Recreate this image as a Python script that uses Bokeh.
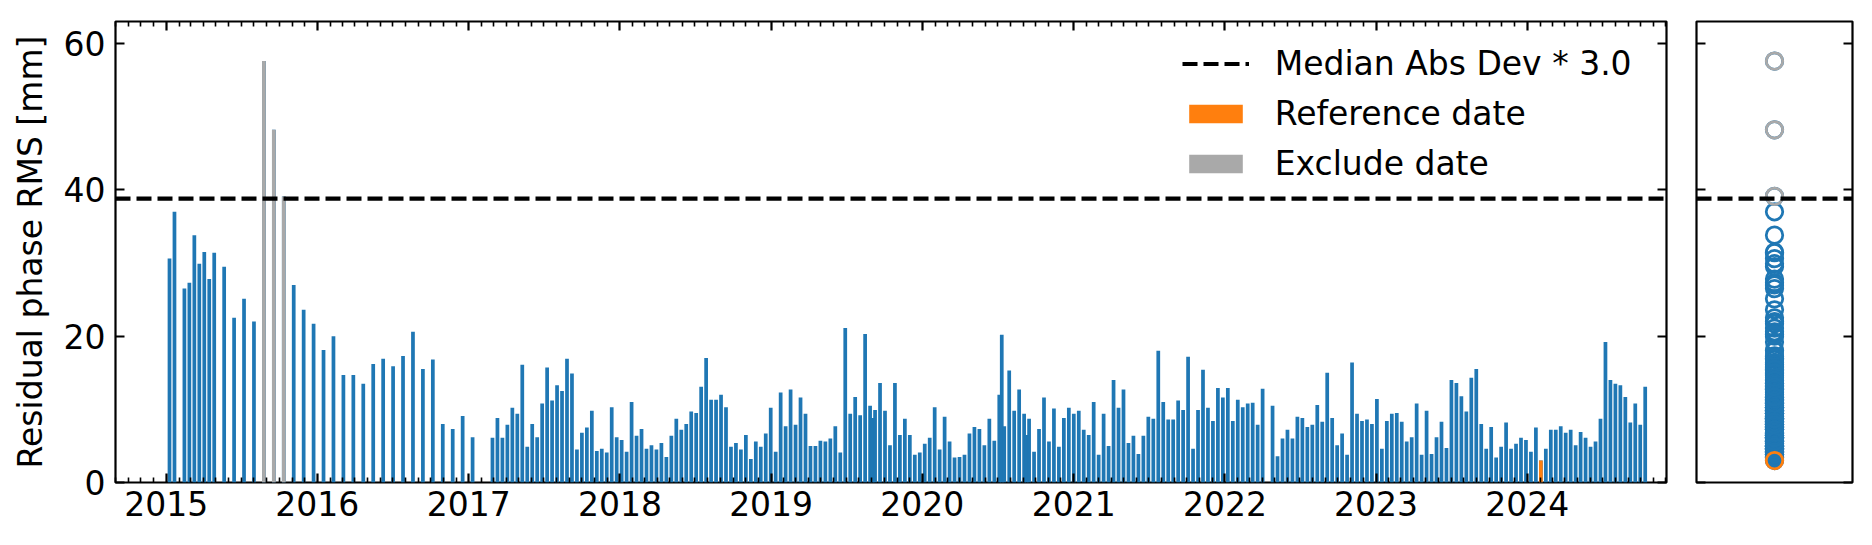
import datetime as dt
from bokeh.plotting import figure
from bokeh.models import (Range1d, LinearAxis, DatetimeAxis, FixedTicker,
                          DatetimeTickFormatter, Legend, LegendItem, ColumnDataSource)
from bokeh.layouts import row
from bokeh.embed import file_html
from bokeh.resources import INLINE

# ---------------- data ----------------
dates = [
    "2015-01-09", "2015-01-21", "2015-02-14", "2015-02-26", "2015-03-10", "2015-03-22", "2015-04-03",
    "2015-04-15", "2015-04-27", "2015-05-21", "2015-06-14", "2015-07-08", "2015-08-01", "2015-08-25",
    "2015-09-18", "2015-10-12", "2015-11-05", "2015-11-29", "2015-12-23",
    "2016-01-16", "2016-02-09", "2016-03-04", "2016-03-28", "2016-04-21", "2016-05-15", "2016-06-08",
    "2016-07-02", "2016-07-26", "2016-08-19", "2016-09-12", "2016-10-06", "2016-10-30", "2016-11-23",
    "2016-12-17",
    "2017-01-10", "2017-02-27", "2017-03-11", "2017-03-23", "2017-04-04", "2017-04-16", "2017-04-28",
    "2017-05-10", "2017-05-22", "2017-06-03", "2017-06-15", "2017-06-27", "2017-07-09", "2017-07-21",
    "2017-08-02", "2017-08-14", "2017-08-26", "2017-09-07", "2017-09-19", "2017-10-01", "2017-10-13",
    "2017-10-25", "2017-11-06", "2017-11-18", "2017-11-30", "2017-12-12", "2017-12-24",
    "2018-01-05", "2018-01-17", "2018-01-29", "2018-02-10", "2018-02-22", "2018-03-06", "2018-03-18",
    "2018-03-30", "2018-04-11", "2018-04-23", "2018-05-05", "2018-05-17", "2018-05-29", "2018-06-10",
    "2018-06-22", "2018-07-04", "2018-07-16", "2018-07-28", "2018-08-09", "2018-08-21", "2018-09-02",
    "2018-09-14", "2018-09-26", "2018-10-08", "2018-10-20", "2018-11-01", "2018-11-13", "2018-11-25",
    "2018-12-07", "2018-12-19", "2018-12-31",
    "2019-01-12", "2019-01-24", "2019-02-05", "2019-02-17", "2019-03-01", "2019-03-13", "2019-03-25",
    "2019-04-06", "2019-04-18", "2019-04-30", "2019-05-12", "2019-05-24", "2019-06-05", "2019-06-17",
    "2019-06-29", "2019-07-11", "2019-07-23", "2019-08-04", "2019-08-16", "2019-08-28", "2019-09-03",
    "2019-09-09", "2019-09-21", "2019-10-03", "2019-10-15", "2019-10-27", "2019-11-08", "2019-11-20",
    "2019-12-02", "2019-12-14", "2019-12-26",
    "2020-01-07", "2020-01-19", "2020-01-31", "2020-02-12", "2020-02-24", "2020-03-07", "2020-03-19",
    "2020-03-31", "2020-04-12", "2020-04-24", "2020-05-06", "2020-05-18", "2020-05-30", "2020-06-11",
    "2020-06-23", "2020-07-05", "2020-07-11", "2020-07-17", "2020-07-29", "2020-08-10", "2020-08-22",
    "2020-09-03", "2020-09-09", "2020-09-15", "2020-09-27", "2020-10-09", "2020-10-21", "2020-11-02",
    "2020-11-14", "2020-11-26", "2020-12-08", "2020-12-20",
    "2021-01-01", "2021-01-13", "2021-01-25", "2021-02-06", "2021-02-18", "2021-03-02", "2021-03-14",
    "2021-03-26", "2021-04-07", "2021-04-19", "2021-05-01", "2021-05-13", "2021-05-25", "2021-06-06",
    "2021-06-18", "2021-06-30", "2021-07-12", "2021-07-24", "2021-08-05", "2021-08-17", "2021-08-29",
    "2021-09-10", "2021-09-22", "2021-10-04", "2021-10-16", "2021-10-28", "2021-11-09", "2021-11-21",
    "2021-12-03", "2021-12-15", "2021-12-27",
    "2022-01-08", "2022-01-20", "2022-02-01", "2022-02-13", "2022-02-25", "2022-03-09", "2022-03-21",
    "2022-04-02", "2022-04-26", "2022-05-08", "2022-05-20", "2022-06-01", "2022-06-13", "2022-06-25",
    "2022-07-07", "2022-07-19", "2022-07-31", "2022-08-12", "2022-08-24", "2022-09-05", "2022-09-17",
    "2022-09-29", "2022-10-11", "2022-10-23", "2022-11-04", "2022-11-16", "2022-11-28", "2022-12-10",
    "2022-12-22",
    "2023-01-03", "2023-01-15", "2023-01-27", "2023-02-08", "2023-02-20", "2023-03-04", "2023-03-16",
    "2023-03-28", "2023-04-09", "2023-04-21", "2023-05-03", "2023-05-15", "2023-05-27", "2023-06-08",
    "2023-06-20", "2023-07-02", "2023-07-14", "2023-07-26", "2023-08-07", "2023-08-19", "2023-08-31",
    "2023-09-12", "2023-09-24", "2023-10-06", "2023-10-18", "2023-10-30", "2023-11-11", "2023-11-23",
    "2023-12-05", "2023-12-17", "2023-12-29",
    "2024-01-10", "2024-01-22", "2024-02-03", "2024-02-15", "2024-02-27", "2024-03-10", "2024-03-22",
    "2024-04-03", "2024-04-15", "2024-04-27", "2024-05-09", "2024-05-21", "2024-06-02", "2024-06-14",
    "2024-06-26", "2024-07-08", "2024-07-20", "2024-08-01", "2024-08-13", "2024-08-25", "2024-09-06",
    "2024-09-18", "2024-09-30", "2024-10-12",
]

rms = [
    30.6, 37.0, 26.5, 27.3, 33.8, 29.9, 31.5, 27.8, 31.4, 29.5, 22.5, 25.1, 22.0, 57.6, 48.2, 39.1,
    27.0, 23.6, 21.7,
    18.1, 20.0, 14.7, 14.7, 13.5, 16.2, 16.9, 15.9, 17.3, 20.6, 15.5, 16.8, 8.0, 7.3, 9.1,
    6.2, 6.1, 8.8, 6.1, 7.9, 10.2, 9.4, 16.1, 4.9, 8.0, 6.2, 10.8, 15.7, 11.2, 13.3, 12.5, 16.9, 14.9,
    4.5, 6.8, 7.5, 9.8, 4.3, 4.6, 4.1, 10.3, 6.2,
    5.8, 4.2, 11.0, 6.4, 7.3, 4.6, 5.1, 4.5, 5.4, 3.5, 6.4, 8.7, 7.2, 8.0, 9.7, 9.5, 13.1, 17.0, 11.3,
    11.3, 12.0, 10.3, 4.9, 5.4, 4.5, 6.5, 3.2, 5.6, 4.9, 6.7, 10.2,
    4.2, 12.3, 7.7, 12.7, 7.9, 11.6, 9.4, 5.0, 5.0, 5.7, 5.6, 6.0, 7.7, 4.1, 21.1, 9.4, 11.7, 9.2,
    20.3, 10.5, 8.8, 9.9, 13.6, 9.8, 5.1, 13.6, 6.5, 8.7, 6.5, 3.8, 4.1,
    5.3, 6.1, 10.3, 4.5, 9.0, 5.6, 3.4, 3.5, 3.8, 6.7, 7.6, 7.3, 5.1, 8.7, 5.7, 12.0, 20.2, 7.7, 15.3,
    9.8, 12.7, 9.4, 6.5, 8.7, 4.2, 7.3, 11.6, 5.6, 10.1, 4.9, 8.8, 10.2,
    9.4, 9.8, 7.2, 6.5, 11.0, 3.8, 9.4, 5.0, 14.0, 10.2, 12.7, 5.4, 6.4, 3.9, 6.4, 9.0, 8.7, 18.0,
    11.0, 8.6, 8.6, 11.2, 9.9, 17.2, 4.6, 9.9, 15.4, 10.2, 8.4, 12.9, 11.6,
    12.9, 8.4, 11.3, 10.3, 10.8, 10.9, 7.9, 12.8, 10.5, 3.6, 6.0, 7.2, 6.0, 9.0, 8.8, 7.6, 7.9, 10.6,
    8.3, 15.0, 8.8, 5.1, 6.7, 3.8, 16.4, 9.4, 8.4, 8.6, 8.0,
    11.4, 4.6, 8.4, 9.4, 9.5, 8.3, 5.6, 6.2, 10.8, 3.8, 9.8, 3.9, 6.2, 8.3, 4.7, 14.0, 13.6, 11.8,
    9.7, 14.3, 15.5, 8.0, 4.6, 7.6, 3.4, 4.9, 8.2, 4.6, 5.3, 6.1, 5.8,
    4.2, 7.5, 3.0, 4.6, 7.2, 7.2, 7.7, 6.8, 7.2, 5.1, 6.9, 6.1, 4.9, 5.6, 8.7, 19.2, 14.0, 13.5, 13.3,
    11.7, 8.2, 10.8, 7.9, 13.1,
]

reference_date = "2024-02-03"
exclude_dates = ["2015-08-25", "2015-09-18", "2015-10-12"]
mad_threshold = 38.8
cutoff = 3.0
year_ticks = [2015, 2016, 2017, 2018, 2019, 2020, 2021, 2022, 2023, 2024]
y_ticks = [0, 20, 40, 60]
y_label = "Residual phase RMS [mm]"
legend_labels = [f"Median Abs Dev * {cutoff}", "Reference date", "Exclude date"]

# ---------------- styling ----------------
BLUE, ORANGE, GREY = "#1f77b4", "#ff7f0e", "#a9a9a9"
FONT, FS = "DejaVu Sans", "33px"
EPOCH = dt.datetime(1970, 1, 1)


def ms(d):
    return (d - EPOCH).total_seconds() * 1000.0


t = [dt.datetime.strptime(s, "%Y-%m-%d") for s in dates]
ref_i = [i for i, s in enumerate(dates) if s == reference_date]
ex_i = [i for i, s in enumerate(dates) if s in exclude_dates]

x_start = dt.datetime(2014, 8, 31, 14)
x_end = dt.datetime(2024, 12, 2, 10)
y_range = Range1d(0, 63.0)

major_x = [ms(dt.datetime(y, 1, 1)) for y in year_ticks]
minor_x = [ms(dt.datetime(y, m, 1)) for y in range(2014, 2025) for m in range(1, 13)]
minor_x = [v for v in minor_x if ms(x_start) <= v <= ms(x_end) and v not in major_x]
x_ticker = FixedTicker(ticks=major_x, minor_ticks=minor_x)
y_ticker = FixedTicker(ticks=y_ticks, minor_ticks=[])
fmt = dict(years="%Y", months="%Y", days="%Y", hours="%Y", hourmin="%Y", minutes="%Y",
           minsec="%Y", seconds="%Y", milliseconds="%Y", microseconds="%Y")


def style_axis(ax, labels=True):
    ax.axis_line_color = None
    ax.major_tick_in = 9
    ax.major_tick_out = 0
    ax.minor_tick_in = 5
    ax.minor_tick_out = 0
    ax.major_tick_line_color = "black"
    ax.major_tick_line_width = 2.2
    ax.minor_tick_line_color = "black"
    ax.minor_tick_line_width = 1.6
    ax.major_label_text_font = FONT
    if labels:
        ax.major_label_text_color = "black"
        ax.major_label_text_font_size = FS
    else:
        # tick marks only, no tick labels drawn
        ax.major_label_text_color = None
        ax.major_label_text_font_size = "1px"
        ax.major_label_standoff = 0


# ---------------- main bar panel ----------------
p = figure(x_axis_type="datetime", x_range=Range1d(x_start, x_end), y_range=y_range,
           frame_width=1551, frame_height=461,
           min_border_left=115, min_border_right=15, min_border_top=21, min_border_bottom=55,
           output_backend="svg", toolbar_location=None)
p.grid.visible = False
p.outline_line_color = "black"
p.outline_line_width = 2.2
p.outline_line_alpha = 1.0
p.background_fill_color = "white"
p.border_fill_color = "white"

bar_w = 9 * 86400000.0
src = ColumnDataSource(dict(x=t, top=rms))
p.vbar(x="x", top="top", bottom=0, width=bar_w, source=src, fill_color=BLUE, line_color=None)
r_ref = p.vbar(x=[t[i] for i in ref_i], top=[rms[i] for i in ref_i], bottom=0, width=bar_w,
               fill_color=ORANGE, line_color=None)
r_ex = p.vbar(x=[t[i] for i in ex_i], top=[rms[i] for i in ex_i], bottom=0, width=bar_w,
              fill_color=GREY, line_color=None)
r_thr = p.line(x=[x_start, x_end], y=[mad_threshold, mad_threshold], line_color="black",
               line_width=4.1, line_dash="15 6")

xb = p.xaxis[0]
xb.ticker = x_ticker
xb.formatter = DatetimeTickFormatter(**fmt)
style_axis(xb)
xb.major_label_standoff = 8

yl = p.yaxis[0]
yl.ticker = y_ticker
style_axis(yl)
yl.major_label_standoff = 10
yl.axis_label = y_label
yl.axis_label_text_font = FONT
yl.axis_label_text_font_size = FS
yl.axis_label_text_font_style = "normal"
yl.axis_label_text_color = "black"
yl.axis_label_standoff = 11

xt = DatetimeAxis(ticker=x_ticker, formatter=DatetimeTickFormatter(**fmt))
style_axis(xt, labels=False)
p.add_layout(xt, "above")
yr = LinearAxis(ticker=y_ticker)
style_axis(yr, labels=False)
p.add_layout(yr, "right")

legend = Legend(items=[LegendItem(label=legend_labels[0], renderers=[r_thr]),
                       LegendItem(label=legend_labels[1], renderers=[r_ref]),
                       LegendItem(label=legend_labels[2], renderers=[r_ex])],
                location=(1066.7, 298.7), padding=0, margin=0, spacing=11,
                glyph_width=67, glyph_height=23, label_height=38, label_standoff=26,
                label_text_font=FONT, label_text_font_size=FS, label_text_color="black",
                border_line_color=None, background_fill_alpha=0)
p.add_layout(legend)

# ---------------- side panel ----------------
p2 = figure(x_range=Range1d(0, 1), y_range=y_range, frame_width=156, frame_height=461,
            min_border_left=15, min_border_right=10, min_border_top=21, min_border_bottom=55,
            x_axis_location=None, y_axis_location=None,
            output_backend="svg", toolbar_location=None)
p2.grid.visible = False
p2.outline_line_color = "black"
p2.outline_line_width = 2.2
p2.outline_line_alpha = 1.0
p2.background_fill_color = "white"
p2.border_fill_color = "white"

for side in ("left", "right"):
    ax = LinearAxis(ticker=y_ticker)
    style_axis(ax, labels=False)
    p2.add_layout(ax, side)

mid = [0.5] * len(rms)
p2.scatter(x=mid, y=rms, marker="circle", size=16.5, fill_color=None,
           line_color=BLUE, line_width=2.75)
p2.scatter(x=[0.5 for _ in ref_i], y=[rms[i] for i in ref_i], marker="circle", size=16.5,
           fill_color=None, line_color=ORANGE, line_width=2.75)
p2.scatter(x=[0.5 for _ in ex_i], y=[rms[i] for i in ex_i], marker="circle", size=16.5,
           fill_color=None, line_color=GREY, line_width=2.75)
p2.line(x=[0, 1], y=[mad_threshold, mad_threshold], line_color="black",
        line_width=4.1, line_dash="15 6")

layout = row(p, p2)
open("out.html", "w").write(file_html(layout, INLINE))
